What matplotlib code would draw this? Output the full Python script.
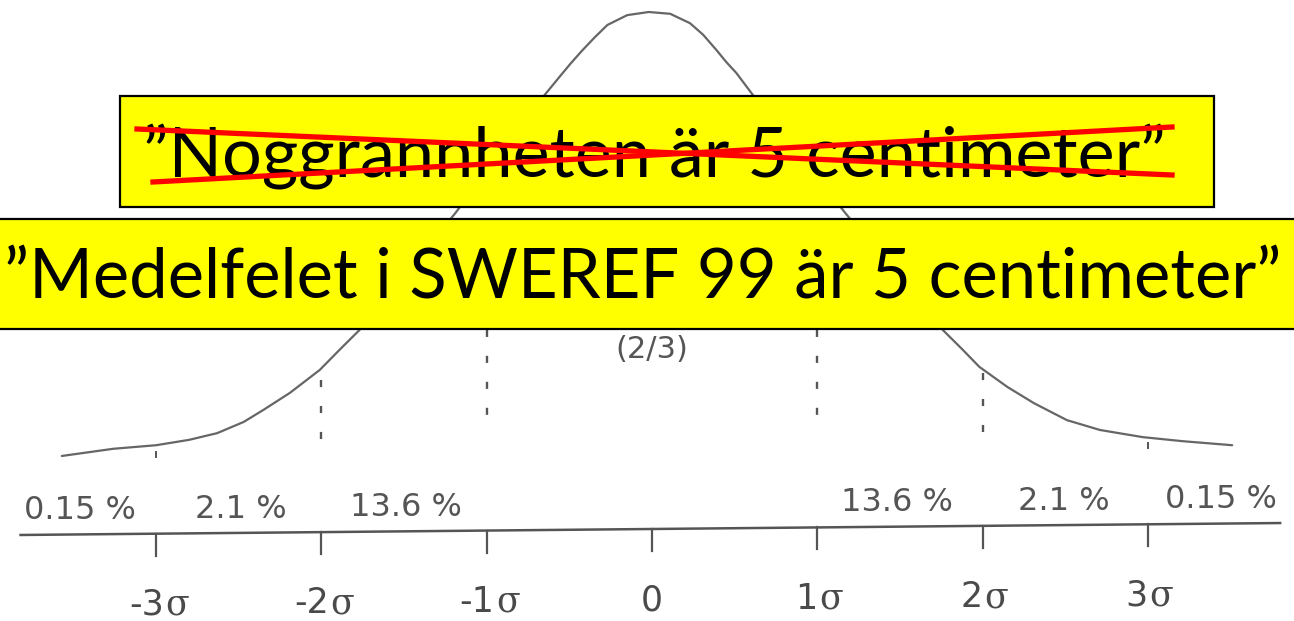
import matplotlib
matplotlib.use("Agg")
import matplotlib.pyplot as plt
from matplotlib.patches import Rectangle
from matplotlib.lines import Line2D

W, H = 1294, 621

# normal curve: x in sigma, y as height relative to peak
curve_x = [-3.57, -3.26, -3.00, -2.80, -2.63, -2.47, -2.35, -2.19, -2.01, -1.89,
           -1.77, -1.19, -0.66, -0.56, -0.49, -0.42, -0.345, -0.27, -0.15, -0.02,
           0.11, 0.23, 0.31, 0.39, 0.45, 0.51, 0.62, 1.17, 1.76, 1.88,
           1.98, 2.15, 2.31, 2.51, 2.71, 2.97, 3.21, 3.51]
curve_y = [0.009, 0.025, 0.033, 0.045, 0.060, 0.085, 0.112, 0.150, 0.201, 0.246,
           0.290, 0.551, 0.810, 0.855, 0.886, 0.915, 0.944, 0.971, 0.993, 1.000,
           0.996, 0.975, 0.949, 0.915, 0.888, 0.864, 0.810, 0.551, 0.290, 0.246,
           0.208, 0.163, 0.127, 0.089, 0.067, 0.051, 0.042, 0.033]

# dashed markers under the curve (sigma, top, bottom)
dash_sig = [-2, -1, 1, 2]
dash_top = [0.179, 0.58, 0.58, 0.194]
dash_bot = [0.045, 0.067, 0.071, 0.060]
mark_sig = [-3, 3]
mark_top = [0.018, 0.038]
mark_bot = [0.007, 0.027]

tick_sig = [-3, -2, -1, 0, 1, 2, 3]
tick_num = ["-3", "-2", "-1", "0", "1", "2", "3"]
pct_x = [-3.46, -2.49, -1.49, 1.48, 2.49, 3.44]
pct_labels = ["0.15 %", "2.1 %", "13.6 %", "13.6 %", "2.1 %", "0.15 %"]

old_text = "\u201dNoggrannheten är 5 centimeter\u201d"
new_text = "\u201dMedelfelet i SWEREF 99 är 5 centimeter\u201d"

# pixel mapping of the scan
PX0, PX_SIG = 652, 165.3
BASE, PEAK = 460, 448
AX_Y0, AX_SLOPE = -0.154, 0.0035   # slightly tilted scan

fig = plt.figure(figsize=(W / 100, H / 100), dpi=100)
ax = fig.add_axes([0, 0, 1, 1])
ax.set_xlim(-PX0 / PX_SIG, (W - PX0) / PX_SIG)
ax.set_ylim((BASE - H) / PEAK, BASE / PEAK)
ax.axis("off")

grey = "#555555"
ax.plot(curve_x, curve_y, color="#666666", lw=1.6, solid_capstyle="round",
        solid_joinstyle="round")

for s, t, b in zip(dash_sig, dash_top, dash_bot):
    ax.plot([s, s], [t, b], color=grey, lw=1.7, ls=(0, (3.0, 8.0)))
for s, t, b in zip(mark_sig, mark_top, mark_bot):
    ax.plot([s, s], [t, b], color=grey, lw=1.4)


def axis_y(x):
    return AX_Y0 + AX_SLOPE * x


xl = [-3.82, 3.80]
ax.plot(xl, [axis_y(v) for v in xl], color=grey, lw=1.8)
for s, n in zip(tick_sig, tick_num):
    ax.plot([s, s], [axis_y(s), axis_y(s) - 0.049], color=grey, lw=1.6)
    yb = axis_y(s) - 0.197
    if n == "0":
        ax.text(s, yb, n, ha="center", va="bottom", fontsize=25,
                family="DejaVu Sans", color="#4a4a4a")
    else:
        split = s + (0.045 if s < 0 else 0.0)
        ax.text(split, yb, n, ha="right", va="bottom", fontsize=25,
                family="DejaVu Sans", color="#4a4a4a")
        ax.text(split + 0.01, yb, "σ", ha="left", va="bottom", fontsize=25,
                family="DejaVu Serif", color="#4a4a4a")

for x, lab in zip(pct_x, pct_labels):
    ax.text(x, axis_y(x) + 0.034, lab, ha="center", va="baseline", fontsize=23,
            family="DejaVu Sans", color=grey)

ax.text(0, (BASE - 350) / PEAK, "(2/3)", ha="center", va="center", fontsize=22,
        family="DejaVu Sans", color=grey)


# yellow boxes in figure pixel space
def fbox(x0, y0, x1, y1):
    r = Rectangle((x0 / W, 1 - y1 / H), (x1 - x0) / W, (y1 - y0) / H,
                  transform=fig.transFigure, facecolor="#ffff00",
                  edgecolor="black", lw=1.6, zorder=5)
    fig.add_artist(r)


fbox(120, 96, 1214, 207)
fbox(-5, 219, 1300, 329)

t1 = fig.text(654 / W, 1 - 177 / H, old_text, ha="center", va="baseline",
              fontsize=50, family="Lato", color="black", zorder=6)
t2 = fig.text(643 / W, 1 - 299 / H, new_text, ha="center", va="baseline",
              fontsize=50, family="Lato", color="black", zorder=6)

# fit text widths to the picture
renderer = fig.canvas.get_renderer()
for t, target in [(t1, 1022), (t2, 1276)]:
    for _ in range(2):
        w = t.get_window_extent(renderer).width
        t.set_fontsize(t.get_fontsize() * target / w)

# red strike-through
for (xa, ya), (xb, yb) in [((137, 129), (1172, 175)), ((153, 182), (1172, 127))]:
    fig.add_artist(Line2D([xa / W, xb / W], [1 - ya / H, 1 - yb / H],
                          transform=fig.transFigure, color="#ff0000", lw=3.8,
                          zorder=7))

fig.savefig("out.png", dpi=100, facecolor="white")
